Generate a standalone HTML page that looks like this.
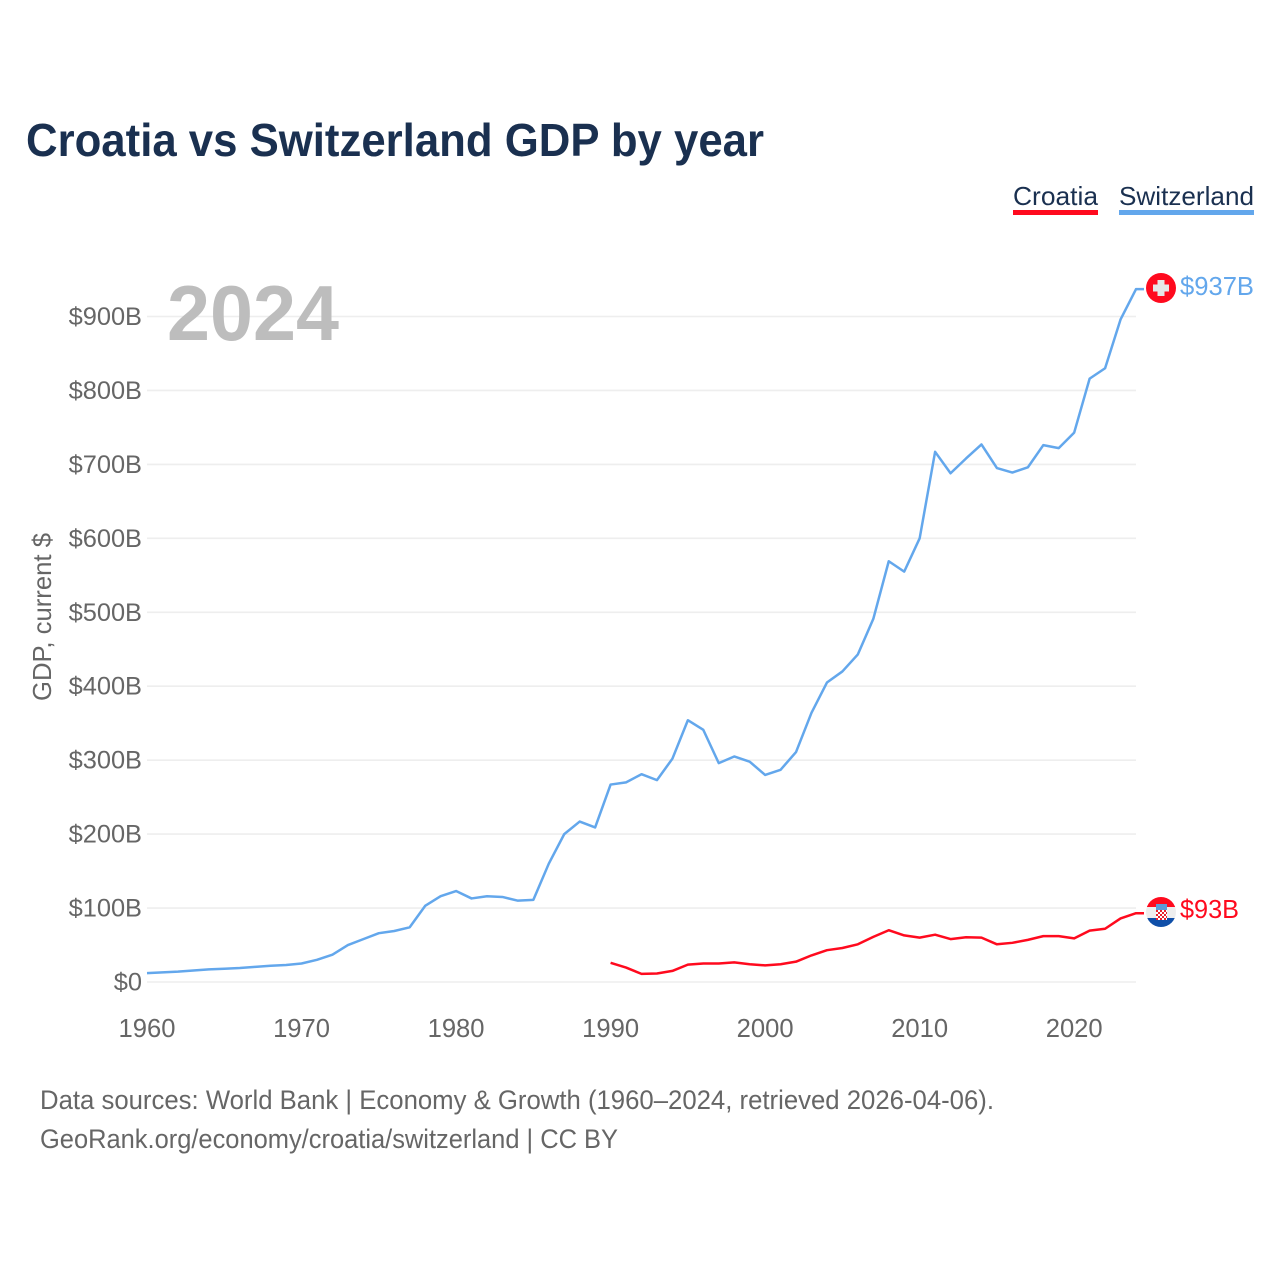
<!DOCTYPE html>
<html lang="en">
<head>
<meta charset="utf-8">
<title>Croatia vs Switzerland GDP by year</title>
<style>
html,body{margin:0;padding:0;background:#fff}
svg{display:block}
text{font-family:"Liberation Sans",sans-serif}
</style>
</head>
<body>
<svg id="chart" xmlns="http://www.w3.org/2000/svg" width="1280" height="1280" viewBox="0 0 1280 1280">
<rect width="1280" height="1280" fill="#fff"/>
<text x="26" y="156" font-size="46" font-weight="700" fill="#1a3050" textLength="738" lengthAdjust="spacingAndGlyphs">Croatia vs Switzerland GDP by year</text>
<g>
<g>
<text x="1013" y="205" font-size="26" fill="#1a3050" textLength="85" lengthAdjust="spacingAndGlyphs">Croatia</text>
<rect x="1013" y="210" width="85" height="5" fill="#ff0a1e"/>
</g>
<g>
<text x="1119" y="205" font-size="26" fill="#1a3050" textLength="135" lengthAdjust="spacingAndGlyphs">Switzerland</text>
<rect x="1119" y="210" width="135" height="5" fill="#63a7ec"/>
</g>
</g>
<g id="grid"></g>
<g id="yticks"></g>
<g id="xticks"></g>
<text transform="translate(51,701) rotate(-90)" font-size="26" fill="#666" textLength="168" lengthAdjust="spacingAndGlyphs">GDP, current $</text>
<text x="167" y="340" font-size="78" font-weight="700" fill="#bdbdbd" textLength="172" lengthAdjust="spacingAndGlyphs">2024</text>
<g id="series"></g>
<defs>
<clipPath id="flag-clip-hr"><circle cx="1161" cy="912" r="15"/></clipPath>
<pattern id="checker" x="1156" y="910" width="4" height="4" patternUnits="userSpaceOnUse">
<rect width="4" height="4" fill="#fff"/>
<rect width="2" height="2" fill="#e8202c"/>
<rect x="2" y="2" width="2" height="2" fill="#e8202c"/>
</pattern>
</defs>
<g>
<circle cx="1161" cy="288" r="15" fill="#ff0a1e"/>
<rect x="1157.5" y="280" width="7" height="16" fill="#e6e6e6"/>
<rect x="1153" y="284.5" width="16" height="7" fill="#e6e6e6"/>
</g>
<g clip-path="url(#flag-clip-hr)">
<rect x="1146" y="897" width="30" height="10" fill="#ff0a1e"/>
<rect x="1146" y="907" width="30" height="11" fill="#eeeeee"/>
<rect x="1146" y="918" width="30" height="9" fill="#0f4fa8"/>
<rect x="1156" y="904" width="11" height="6" fill="#5b9bd8"/>
<rect x="1156" y="910" width="11" height="10" fill="url(#checker)"/>
</g>
<text x="1180" y="295" font-size="26" fill="#63a7ec" textLength="74" lengthAdjust="spacingAndGlyphs">$937B</text>
<text x="1180" y="918" font-size="26" fill="#ff0a1e" textLength="59" lengthAdjust="spacingAndGlyphs">$93B</text>
<text x="40" y="1109" font-size="26.5" fill="#666" textLength="954" lengthAdjust="spacingAndGlyphs">Data sources: World Bank | Economy &amp; Growth (1960–2024, retrieved 2026-04-06).</text>
<text x="40" y="1148" font-size="26.5" fill="#666" textLength="578" lengthAdjust="spacingAndGlyphs">GeoRank.org/economy/croatia/switzerland | CC BY</text>
</svg>
<script>
const yTickValues = [0, 100, 200, 300, 400, 500, 600, 700, 800, 900];
const yTickLabels = ["$0", "$100B", "$200B", "$300B", "$400B", "$500B", "$600B", "$700B", "$800B", "$900B"];
const xTickYears = [1960, 1970, 1980, 1990, 2000, 2010, 2020];
const switzerlandStartYear = 1960;
const switzerlandGdp = [12, 13, 14, 15.5, 17, 18, 19, 20.5, 22, 23, 25, 30, 37, 50, 58, 66, 69, 74, 103, 116, 123, 113, 116, 115, 110, 111, 160, 200, 217, 209, 267, 270, 281, 273, 302, 354, 341, 296, 305, 298, 280, 287, 311, 364, 405, 420, 443, 491, 569, 555, 600, 717, 688, 708, 727, 695, 689, 696, 726, 722, 743, 816, 830, 896, 937];
const croatiaStartYear = 1990;
const croatiaGdp = [26, 19.5, 11, 11.5, 15, 23.5, 25, 25, 26.5, 24, 22.5, 24, 27.5, 36, 43, 46, 51, 61, 70, 63, 60, 64, 58, 60.5, 60, 51, 53, 57, 62, 62, 59, 69.5, 72, 86, 93];

const NS = "http://www.w3.org/2000/svg";
function xScale(year) { return 147 + (year - 1960) * (989 / 64); }
function yScale(value) { return 982 - value * (665.5 / 900); }

function make(tag, attrs, parent) {
  const el = document.createElementNS(NS, tag);
  Object.keys(attrs).forEach(function (k) { el.setAttribute(k, attrs[k]); });
  parent.appendChild(el);
  return el;
}

const grid = document.getElementById("grid");
const yticks = document.getElementById("yticks");
const xticks = document.getElementById("xticks");
const series = document.getElementById("series");

yTickValues.forEach(function (v, i) {
  const line = make("line", { x1: 147, x2: 1136, y1: yScale(v), y2: yScale(v), stroke: "#eeeeee", "stroke-width": 1.6 }, grid);
  
  
  const label = make("text", { x: 142, y: yScale(v) + 8.5, "text-anchor": "end", "font-size": 25.4, fill: "#666" }, yticks);
  
  
  label.textContent = yTickLabels[i];
});

xTickYears.forEach(function (y) {
  const label = make("text", { x: xScale(y), y: 1037, "text-anchor": "middle", "font-size": 25.6, fill: "#666" }, xticks);
  
  
  label.textContent = String(y);
});

function pathFor(values, startYear) {
  const pts = values.map(function (v, i) { return xScale(startYear + i).toFixed(2) + " " + yScale(v).toFixed(2); });
  const last = values[values.length - 1];
  return "M" + pts.join("L") + "L" + (xScale(startYear + values.length - 1) + 8) + " " + yScale(last).toFixed(2);
}

const swissLine = make("path", { d: pathFor(switzerlandGdp, switzerlandStartYear), fill: "none", stroke: "#63a7ec", "stroke-width": 2.5, "stroke-linejoin": "round" }, series);



const croatiaLine = make("path", { d: pathFor(croatiaGdp, croatiaStartYear), fill: "none", stroke: "#ff0a1e", "stroke-width": 2.5, "stroke-linejoin": "round" }, series);


</script>
</body>
</html>
